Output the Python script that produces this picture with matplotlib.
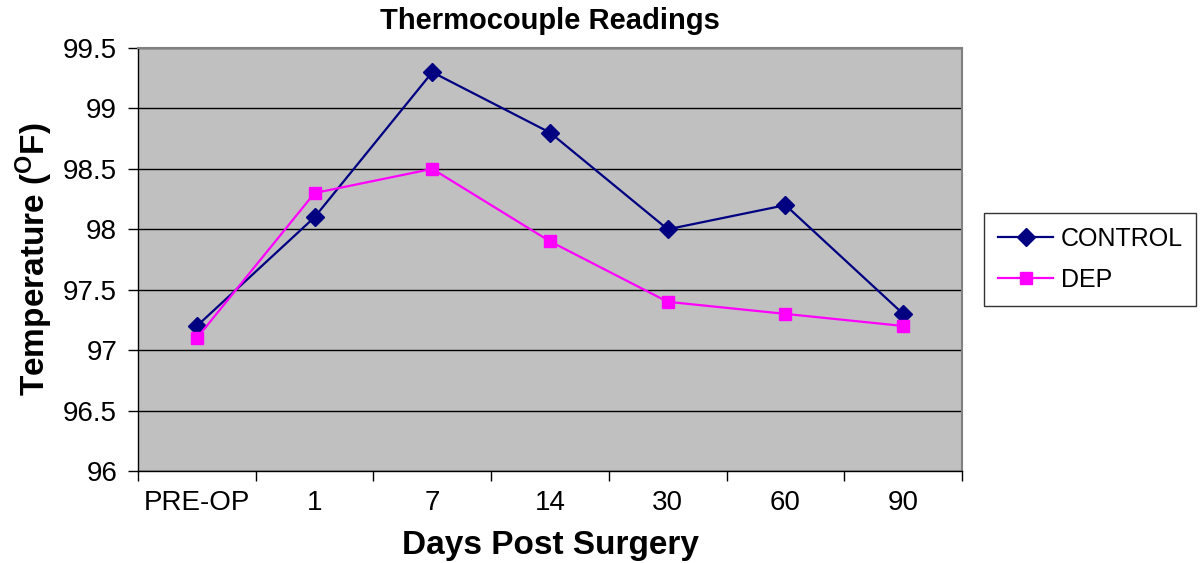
import numpy as np
import matplotlib
matplotlib.use('Agg')
import matplotlib.pyplot as plt

plt.rcParams['font.family'] = ['Liberation Sans', 'DejaVu Sans']
plt.rcParams['mathtext.fontset'] = 'custom'
plt.rcParams['mathtext.rm'] = 'Liberation Sans'
plt.rcParams['mathtext.bf'] = 'Liberation Sans:bold'

# data
days = ['PRE-OP', '1', '7', '14', '30', '60', '90']
control = [97.2, 98.1, 99.3, 98.8, 98.0, 98.2, 97.3]
dep = [97.1, 98.3, 98.5, 97.9, 97.4, 97.3, 97.2]

fig = plt.figure(figsize=(12, 5.63), dpi=100)
ax = fig.add_axes([0.115, 0.1634, 0.6867, 0.7513])
ax.set_facecolor('#c0c0c0')

x = np.arange(len(days))
ax.plot(x, control, '-', color='#000080', lw=1.6, marker='D', ms=9.5,
        label='CONTROL')
ax.plot(x, dep, '-', color='#ff00ff', lw=1.6, marker='s', ms=9,
        label='DEP')

ax.set_xlim(-0.5, len(days) - 0.5)
ax.set_ylim(96, 99.5)
ax.set_yticks(np.arange(96, 99.51, 0.5))
ax.set_yticklabels(['96', '96.5', '97', '97.5', '98', '98.5', '99', '99.5'])
ax.yaxis.grid(True, color='black', lw=1)
ax.set_axisbelow(True)

ax.set_xticks(x)
ax.set_xticklabels(days)
ax.set_xticks(np.arange(-0.5, len(days), 1.0), minor=True)
ax.tick_params(axis='x', which='major', length=0, pad=14, labelsize=20)
ax.tick_params(axis='x', which='minor', length=7, width=1, direction='out')
ax.tick_params(axis='y', length=7, width=1, direction='out', pad=8,
               labelsize=20)

for s in ['top', 'right']:
    ax.spines[s].set_color('#808080')
    ax.spines[s].set_linewidth(1.5)
for s in ['left', 'bottom']:
    ax.spines[s].set_color('black')
    ax.spines[s].set_linewidth(1)

ax.set_title('Thermocouple Readings', fontsize=21, fontweight='bold', pad=14)
ax.set_xlabel('Days Post Surgery', fontsize=24, fontweight='bold', labelpad=10)
ax.set_ylabel(r'Temperature ($\mathbf{^{O}}$F)', fontsize=24,
              fontweight='bold', labelpad=6)

leg = ax.legend(loc='center left', bbox_to_anchor=(1.027, 0.5), fontsize=18,
                frameon=True, fancybox=False, edgecolor='black',
                borderpad=0.55, labelspacing=0.68, handlelength=2.2,
                handletextpad=0.3, borderaxespad=0)
leg.get_frame().set_linewidth(1)

fig.savefig('out.png', dpi=100)
